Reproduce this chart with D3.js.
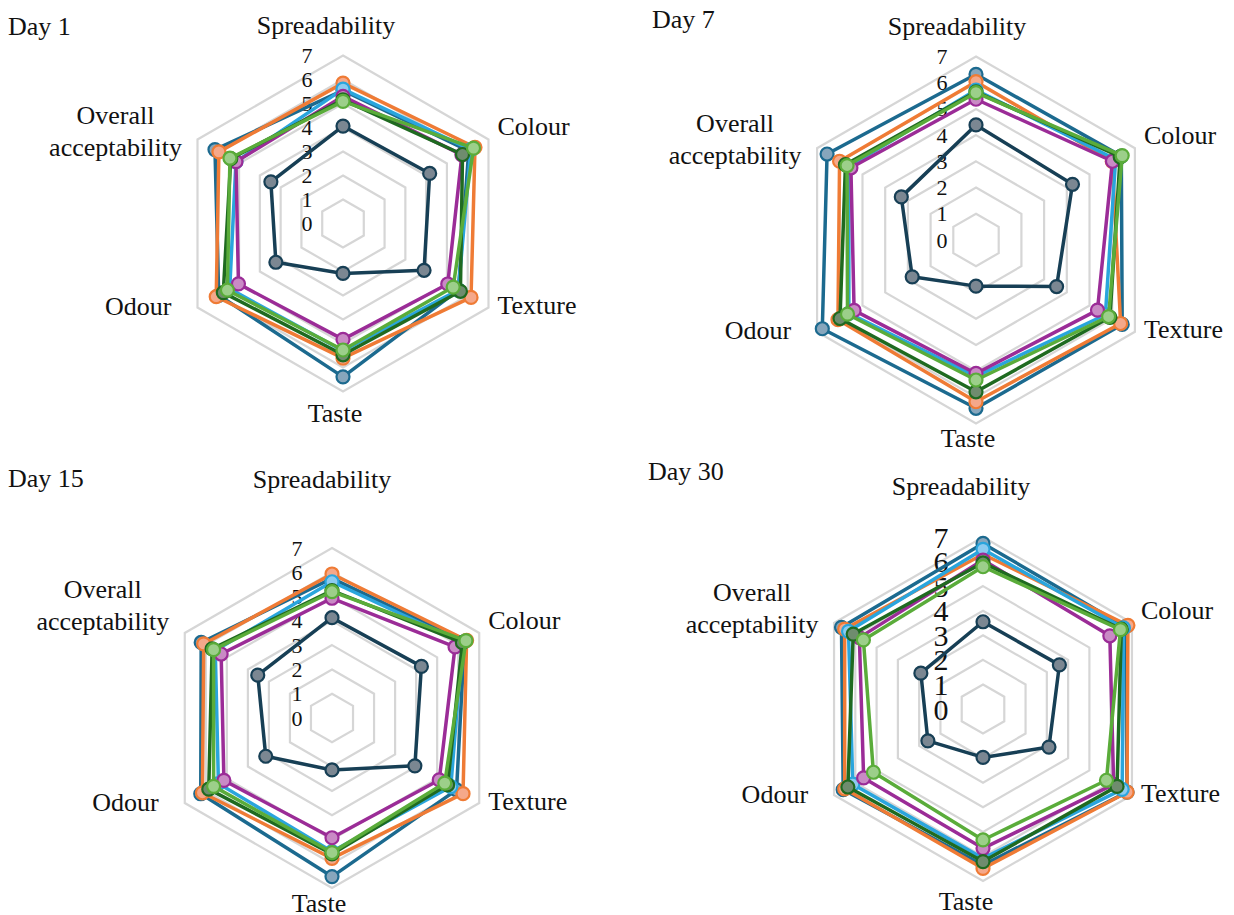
<!DOCTYPE html>
<html>
<head>
<meta charset="utf-8">
<script src="https://cdn.jsdelivr.net/npm/d3@7"></script>
<style>
  body { margin: 0; background: #fff; }
  text { font-family: "Liberation Serif", "DejaVu Serif", serif; fill: #111; }
</style>
</head>
<body>
<div id="chart"></div>
<script>
var width = 1234;
var height = 915;

// --- data ---
var axes = ["Spreadability", "Colour", "Texture", "Taste", "Odour", "Overall acceptability"];
var days = ["Day 1", "Day 7", "Day 15", "Day 30"];
var seriesNames = ["Control", "T1", "T2", "T3", "T4", "T5", "T6"];
var radialTicks = [0, 1, 2, 3, 4, 5, 6, 7];
var gridLevels = [1, 2, 3, 4, 5, 6, 7];

var day1 = [
  [4.06, 4.17, 3.90, 2.08, 3.23, 3.47],
  [5.55, 6.05, 5.55, 6.39, 5.98, 6.16],
  [5.85, 6.35, 6.16, 5.61, 6.10, 5.97],
  [5.60, 6.15, 5.55, 5.30, 5.45, 5.15],
  [5.30, 5.72, 5.04, 4.83, 5.03, 5.15],
  [5.15, 5.75, 5.65, 5.47, 5.76, 5.40],
  [5.09, 6.28, 5.30, 5.27, 5.56, 5.44]
];
var day7 = [
  [4.39, 4.25, 3.55, 1.76, 2.81, 3.29],
  [6.32, 6.40, 6.44, 6.42, 6.77, 6.56],
  [6.04, 6.00, 6.37, 6.17, 6.08, 6.01],
  [5.72, 6.15, 5.70, 5.20, 5.60, 5.60],
  [5.37, 6.01, 5.35, 5.09, 5.37, 5.51],
  [5.65, 6.35, 5.90, 5.79, 5.99, 5.75],
  [5.62, 6.44, 5.84, 5.34, 5.66, 5.68]
];
var day15 = [
  [4.13, 4.25, 3.94, 2.14, 3.15, 3.53],
  [5.75, 6.30, 5.92, 6.53, 6.24, 6.22],
  [5.93, 6.40, 6.23, 5.78, 6.16, 6.10],
  [5.61, 6.20, 5.65, 5.50, 5.40, 5.55],
  [4.93, 5.85, 5.10, 4.93, 5.14, 5.27],
  [5.25, 6.20, 5.50, 5.60, 5.86, 5.70],
  [5.20, 6.37, 5.36, 5.54, 5.63, 5.63]
];
var day30 = [
  [3.55, 3.59, 3.10, 1.97, 2.59, 2.92],
  [6.74, 6.70, 6.77, 6.35, 6.57, 6.65],
  [6.30, 6.81, 6.77, 6.49, 6.50, 6.50],
  [6.50, 6.60, 6.54, 6.08, 6.12, 6.32],
  [6.06, 5.96, 6.14, 5.67, 5.61, 5.81],
  [5.95, 6.50, 6.30, 6.21, 6.35, 6.10],
  [5.79, 6.46, 5.80, 5.33, 5.15, 5.62]
];
var dayValues = [day1, day7, day15, day30];

// --- styling ---
var lineColors = ["#173f55", "#1c6a8f", "#ef7b35", "#2aa5dd", "#9b2c97", "#1f6a20", "#5aac3a"];
var markerFills = ["#7b8792", "#87a6bc", "#f5a88a", "#8ccbf0", "#c98ac5", "#6f8c6e", "#9ccf8a"];

// panel layout
var panels = [
  { cx: 343, cy: 223.5, R: 168,   tx: 8,   ty: 35,  topDy: 22, topDx: -17, botDy: 30, botDx: -8,  ovDy: 0,   tickSize: 22, tickDx: -36 },
  { cx: 976, cy: 240,   R: 183.5, tx: 652, ty: 28,  topDy: 22, topDx: -19, botDy: 23, botDx: -8,  ovDy: 0,   tickSize: 22, tickDx: -34 },
  { cx: 332, cy: 718,   R: 170,   tx: 8,   ty: 487, topDy: 60, topDx: -10, botDy: 24, botDx: -13, ovDy: -19, tickSize: 22, tickDx: -35 },
  { cx: 983, cy: 709,   R: 172,   tx: 648, ty: 480, topDy: 42, topDx: -22, botDy: 29, botDx: -17, ovDy: -6,  tickSize: 30, tickDx: -42 }
];

var svg = d3.select("#chart")
  .append("svg")
  .attr("width", width)
  .attr("height", height);

var angle = function(i) { return i * 2 * Math.PI / axes.length; };

panels.forEach(function(p, k) {
  var r = d3.scaleLinear().domain([0, 7]).range([0, p.R]);
  var g = svg.append("g").attr("transform", "translate(" + p.cx + "," + p.cy + ")");

  var radial = d3.lineRadial()
    .angle(function(d, i) { return angle(i); })
    .radius(function(d) { return r(d); })
    .curve(d3.curveLinearClosed);

  // grid hexagons
  g.selectAll(".grid")
    .data(gridLevels)
    .enter()
    .append("path")
    .attr("fill", "none")
    .attr("stroke", "#d6d6d6")
    .attr("stroke-width", 2.2)
    .attr("d", function(v) { return radial(axes.map(function() { return v; })); });

  // radial tick labels
  g.selectAll(".tick")
    .data(radialTicks)
    .enter()
    .append("text")
    .attr("x", p.tickDx)
    .attr("y", function(v) { return -r(v); })
    .attr("text-anchor", "middle")
    .attr("dominant-baseline", "central")
    .style("font-size", p.tickSize + "px")
    .text(function(v) { return v; });

  // series lines
  var vals = dayValues[k];
  var series = g.selectAll(".series")
    .data(vals)
    .enter()
    .append("g");

  series.append("path")
    .attr("fill", "none")
    .attr("stroke", function(d, i) { return lineColors[i]; })
    .attr("stroke-width", 3.5)
    .attr("stroke-linejoin", "round")
    .attr("d", radial);

  series.each(function(d, si) {
    d3.select(this).selectAll("circle")
      .data(d)
      .enter()
      .append("circle")
      .attr("cx", function(v, i) { return d3.pointRadial(angle(i), r(v))[0]; })
      .attr("cy", function(v, i) { return d3.pointRadial(angle(i), r(v))[1]; })
      .attr("r", 6.5)
      .attr("fill", markerFills[si])
      .attr("stroke", lineColors[si])
      .attr("stroke-width", 2.2);
  });

  // axis labels
  axes.forEach(function(name, i) {
    var pt = d3.pointRadial(angle(i), p.R);
    var t = g.append("text").style("font-size", "26px");
    if (i === 0) {
      t.attr("x", p.topDx).attr("y", -p.R - p.topDy).attr("text-anchor", "middle").text(name);
    } else if (i === 3) {
      t.attr("x", p.botDx).attr("y", p.R + p.botDy).attr("text-anchor", "middle").text(name);
    } else if (i === 1) {
      t.attr("x", pt[0] + 9).attr("y", pt[1] - 13).attr("dominant-baseline", "central").text(name);
    } else if (i === 2) {
      t.attr("x", pt[0] + 9).attr("y", pt[1] - 2).attr("dominant-baseline", "central").text(name);
    } else if (i === 4) {
      t.attr("x", pt[0] - 26).attr("y", pt[1] - 1).attr("text-anchor", "end").attr("dominant-baseline", "central").text(name);
    } else {
      t.attr("text-anchor", "middle").attr("dominant-baseline", "central");
      name.split(" ").forEach(function(w, j) {
        t.append("tspan")
          .attr("x", pt[0] - 82)
          .attr("y", pt[1] - 25 + p.ovDy + j * 32)
          .text(w);
      });
    }
  });

  // panel title
  svg.append("text")
    .attr("x", p.tx)
    .attr("y", p.ty)
    .style("font-size", "26px")
    .text(days[k]);
});
</script>
</body>
</html>
